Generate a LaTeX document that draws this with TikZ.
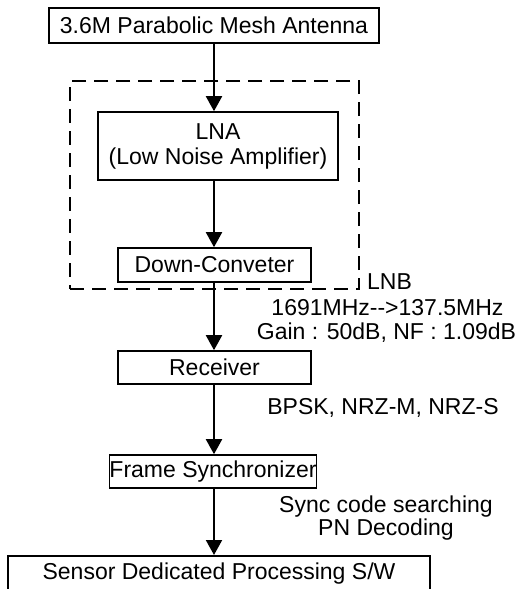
\documentclass[tikz,border=0pt]{standalone}
\usepackage{fontspec}
\setmainfont{Liberation Sans}
\usetikzlibrary{arrows.meta}
\begin{document}
\begin{tikzpicture}[x=1pt,y=-1pt,
  box/.style={draw, line width=1.6pt, inner sep=0pt, align=center, font=\fontsize{23}{25}\selectfont},
  lbl/.style={inner sep=0pt, align=center, font=\fontsize{23}{25}\selectfont},
  arr/.style={line width=2pt, -{Triangle[length=15pt,width=16pt]}},
  grp/.style={draw, line width=1.6pt, dash pattern=on 14pt off 8pt, inner sep=0pt}]
\useasboundingbox (0,0) rectangle (524,589);
\node[grp, minimum width=289pt, minimum height=208pt] (lnbbox) at (214.5,185) {};
\node[box, minimum width=330pt, minimum height=35pt] (ant) at (214,25.5) {3.6M Parabolic Mesh Antenna};
\node[box, minimum width=240pt, minimum height=68pt] (lna) at (218,146) {LNA\\(Low Noise Amplifier)};
\node[box, minimum width=193pt, minimum height=34pt] (down) at (214.5,265) {Down-Conveter};
\node[box, minimum width=193pt, minimum height=33pt] (rec) at (214.5,367.5) {Receiver};
\node[box, minimum width=204pt, minimum height=33pt] (frame) at (213,471.5) {Frame Synchronizer};
\node[box, minimum width=422pt, minimum height=44pt, anchor=north] (sens) at (219,555) {};
\node[lbl] (senst) at (219,574) {Sensor Dedicated Processing S/W};
\node[lbl, anchor=base west] (lnb) at (367,289) {LNB};
\node[lbl] (freq) at (387.5,308) {1691MHz{-}{-}>137.5MHz};
\node[lbl] (gain) at (386.5,333) {Gain : 50dB, NF : 1.09dB};
\node[lbl] (bpsk) at (383,408) {BPSK, NRZ-M, NRZ-S};
\node[lbl, font=\fontsize{23}{20}\selectfont] (sync) at (386,518) {Sync code searching\\PN Decoding};
\draw[arr] (ant.south) -- (ant.south |- lna.north);
\draw[arr] (ant.south |- lna.south) -- (ant.south |- down.north);
\draw[arr] (ant.south |- down.south) -- (ant.south |- rec.north);
\draw[arr] (ant.south |- rec.south) -- (ant.south |- frame.north);
\draw[arr] (ant.south |- frame.south) -- (ant.south |- sens.north);
\end{tikzpicture}
\end{document}
